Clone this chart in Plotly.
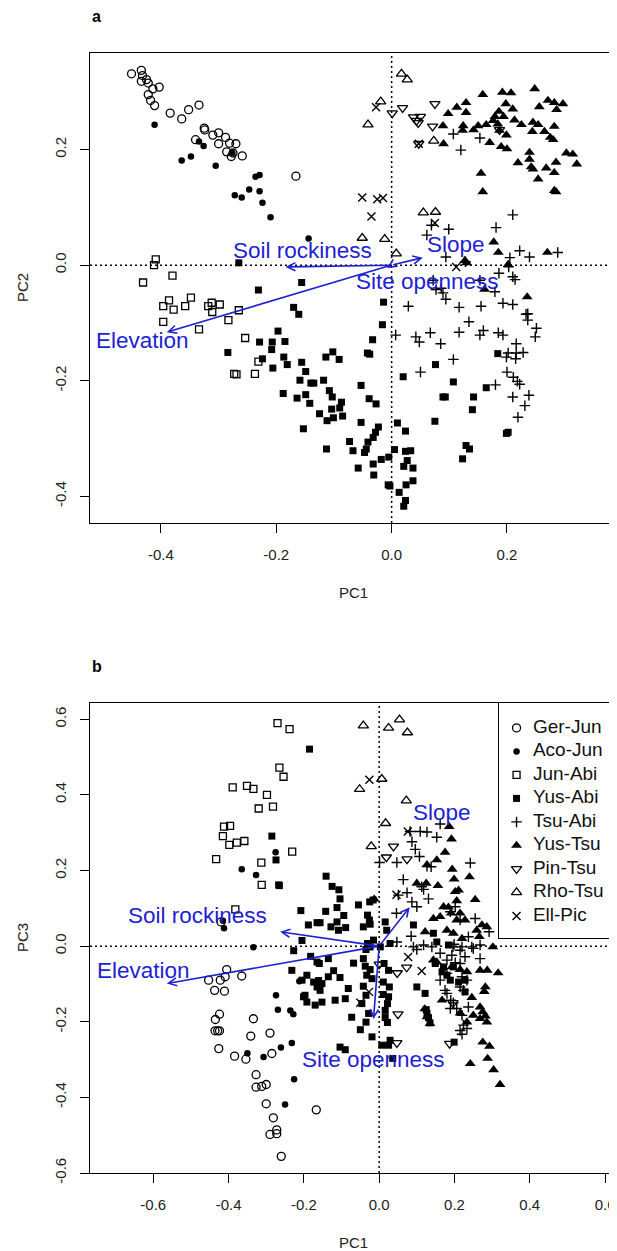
import plotly.graph_objects as go

# The page body has an 8px default margin: the figure is sized so that it
# fills the 617x1251 window exactly from that offset.
PAGE_W, PAGE_H, OFF = 617, 1251, 8
FW, FH = PAGE_W - OFF, PAGE_H - OFF
FONT = "Liberation Sans, Arial, Helvetica, sans-serif"
BLUE = "#1e1ed2"

# ---------------- data: panel a (PC1 vs PC2) ----------------
GER_JUN_A_PC1 = [-0.451,-0.434,-0.432,-0.425,-0.422,-0.434,-0.414,-0.403,-0.422,-0.418,-0.411,-0.384,-0.364,-0.352,-0.334,-0.325,-0.324,-0.340,-0.310,-0.300,-0.300,-0.288,-0.281,-0.270,-0.286,-0.278,-0.275,-0.259,-0.166]
GER_JUN_A_PC2 = [0.331,0.337,0.328,0.321,0.315,0.318,0.305,0.308,0.295,0.285,0.276,0.263,0.253,0.269,0.277,0.237,0.234,0.217,0.225,0.229,0.210,0.221,0.211,0.210,0.196,0.188,0.194,0.189,0.154]

ACO_JUN_A_PC1 = [-0.411,-0.364,-0.348,-0.334,-0.326,-0.305,-0.272,-0.260,-0.247,-0.236,-0.229,-0.229,-0.224,-0.210,-0.144,-0.276]
ACO_JUN_A_PC2 = [0.243,0.181,0.188,0.214,0.206,0.172,0.121,0.117,0.131,0.153,0.156,0.128,0.108,0.083,0.046,0.194]

JUN_ABI_A_PC1 = [-0.409,-0.412,-0.380,-0.431,-0.396,-0.386,-0.378,-0.358,-0.348,-0.334,-0.318,-0.312,-0.311,-0.298,-0.396,-0.265,-0.283,-0.254,-0.231,-0.237,-0.269,-0.273]
JUN_ABI_A_PC2 = [0.010,0.000,-0.018,-0.030,-0.071,-0.061,-0.077,-0.071,-0.056,-0.111,-0.071,-0.065,-0.081,-0.068,-0.098,-0.078,-0.095,-0.126,-0.167,-0.188,-0.189,-0.188]

YUS_ABI_A_PC1 = [-0.265,-0.156,-0.231,-0.170,-0.161,-0.197,-0.229,-0.207,-0.185,-0.208,
                 -0.284,-0.224,-0.187,-0.181,-0.206,-0.156,-0.114,-0.102,-0.091,-0.149,
                 -0.159,-0.140,-0.135,-0.118,-0.188,-0.164,-0.149,-0.142,-0.108,-0.103,
                 -0.087,-0.090,-0.125,-0.104,-0.112,-0.101,-0.085,-0.153,-0.053,-0.039,
                 -0.027,-0.053,-0.023,-0.014,-0.016,-0.033,-0.042,-0.038,-0.028,-0.032,
                 -0.041,-0.044,-0.073,-0.067,-0.113,-0.047,-0.032,-0.018,-0.005,-0.058,
                 -0.031,-0.006,-0.003,0.010,0.024,0.005,0.024,0.033,0.027,0.021,
                 0.037,0.025,0.037,0.013,0.024,0.021,0.076,0.020,0.107,0.089,
                 0.093,0.142,0.140,0.075,0.129,0.135,0.123,0.164,0.184,0.199,0.202]
YUS_ABI_A_PC2 = [0.004,-0.030,-0.043,-0.073,-0.085,-0.114,-0.133,-0.133,-0.132,-0.146,
                 -0.151,-0.162,-0.159,-0.172,-0.178,-0.168,-0.159,-0.150,-0.163,-0.184,
                 -0.199,-0.204,-0.204,-0.199,-0.222,-0.230,-0.224,-0.239,-0.217,-0.228,
                 -0.237,-0.247,-0.257,-0.249,-0.269,-0.264,-0.261,-0.283,-0.208,-0.231,
                 -0.240,-0.272,-0.280,-0.064,-0.103,-0.129,-0.152,-0.154,-0.289,-0.298,
                 -0.306,-0.318,-0.305,-0.321,-0.318,-0.324,-0.344,-0.336,-0.332,-0.351,
                 -0.363,-0.380,-0.382,-0.273,-0.287,-0.319,-0.322,-0.321,-0.338,-0.348,
                 -0.351,-0.380,-0.373,-0.393,-0.407,-0.417,-0.172,-0.193,-0.202,-0.228,
                 -0.228,-0.228,-0.250,-0.270,-0.312,-0.318,-0.335,-0.212,-0.153,-0.291,-0.289]

TSU_ABI_A_PC1 = [0.107,0.153,0.120,0.210,0.181,0.099,0.061,0.069,0.094,0.128,
                 0.205,0.222,0.239,0.288,0.203,0.186,0.210,0.214,0.179,0.153,
                 0.072,0.077,0.086,0.089,0.094,0.029,0.117,0.155,0.193,0.210,
                 0.233,0.236,0.251,0.249,0.134,0.117,0.067,0.042,0.048,0.085,
                 0.007,0.153,0.159,0.185,0.193,0.216,0.202,0.216,0.228,0.199,
                 0.215,0.107,0.050,0.200,0.211,0.218,0.222,0.180,0.210,0.238,
                 0.231,0.219,0.236]
TSU_ABI_A_PC2 = [0.227,0.220,0.199,0.087,0.065,0.062,0.052,0.069,0.014,0.006,
                 0.013,0.025,0.014,0.022,-0.003,-0.014,-0.020,-0.025,-0.046,-0.026,
                 -0.026,-0.042,-0.040,-0.048,-0.059,-0.071,-0.073,-0.071,-0.066,-0.068,
                 -0.085,-0.095,-0.109,-0.124,-0.098,-0.116,-0.117,-0.124,-0.133,-0.136,
                 -0.121,-0.121,-0.113,-0.117,-0.121,-0.136,-0.152,-0.152,-0.151,-0.159,
                 -0.162,-0.163,-0.185,-0.185,-0.194,-0.201,-0.206,-0.207,-0.228,-0.225,
                 -0.243,-0.263,-0.084]

YUS_TSU_A_PC1 = [0.158,0.192,0.207,0.248,0.271,0.282,0.297,0.256,0.286,0.129,
                 0.113,0.098,0.129,0.198,0.210,0.186,0.179,0.176,0.184,0.194,
                 0.164,0.150,0.142,0.089,0.124,0.123,0.187,0.199,0.213,0.225,
                 0.245,0.254,0.244,0.265,0.282,0.275,0.280,0.170,0.190,0.200,
                 0.090,0.239,0.239,0.219,0.242,0.245,0.268,0.282,0.285,0.303,
                 0.314,0.321,0.254,0.155,0.158,0.282,0.285,0.177,0.185,0.270,
                 0.202,0.127,0.130,0.161,0.235]
YUS_TSU_A_PC2 = [0.295,0.299,0.298,0.305,0.285,0.281,0.279,0.274,0.269,0.281,
                 0.273,0.262,0.264,0.279,0.270,0.266,0.257,0.250,0.244,0.257,
                 0.243,0.241,0.234,0.241,0.241,0.233,0.233,0.225,0.251,0.243,
                 0.247,0.243,0.231,0.231,0.240,0.221,0.217,0.212,0.205,0.201,
                 0.210,0.195,0.183,0.177,0.170,0.166,0.168,0.160,0.178,0.194,
                 0.192,0.175,0.149,0.159,0.127,0.129,0.127,0.040,0.022,0.022,
                 0.001,0.008,0.004,-0.042,-0.055]

PIN_TSU_A_PC1 = [0.001,0.019,0.038,0.043,0.050,0.046,0.075,0.071,0.047,0.187]
PIN_TSU_A_PC2 = [0.263,0.272,0.256,0.250,0.257,0.246,0.279,0.240,0.210,0.234]

RHO_TSU_A_PC1 = [0.017,0.027,-0.019,-0.041,0.073,0.055,0.076,-0.051,-0.012,0.008]
RHO_TSU_A_PC2 = [0.331,0.321,0.283,0.243,0.215,0.091,0.092,0.047,0.045,0.020]

ELL_PIC_A_PC1 = [-0.027,0.047,-0.051,-0.025,-0.015,-0.035,0.075,0.112]
ELL_PIC_A_PC2 = [0.273,0.210,0.117,0.114,0.116,0.084,0.073,-0.003]

# ---------------- data: panel b (PC1 vs PC3) ----------------
GER_JUN_B_PC1 = [-0.453,-0.422,-0.405,-0.409,-0.365,-0.437,-0.411,-0.424,-0.435,-0.436,
                 -0.429,-0.424,-0.426,-0.334,-0.341,-0.290,-0.384,-0.354,-0.285,-0.327,
                 -0.327,-0.312,-0.300,-0.300,-0.281,-0.272,-0.290,-0.272,-0.260,-0.167,-0.420]
GER_JUN_B_PC3 = [-0.090,-0.090,-0.062,-0.081,-0.079,-0.117,-0.119,-0.180,-0.194,-0.224,
                 -0.224,-0.224,-0.271,-0.192,-0.238,-0.230,-0.291,-0.299,-0.284,-0.340,
                 -0.373,-0.371,-0.366,-0.417,-0.454,-0.486,-0.498,-0.496,-0.556,-0.433,0.064]

ACO_JUN_B_PC1 = [-0.365,-0.327,-0.275,-0.415,-0.412,-0.334,-0.274,-0.269,-0.236,-0.228,-0.212,-0.232,-0.261,-0.350,-0.307,-0.226,-0.250]
ACO_JUN_B_PC3 = [0.203,0.188,0.248,0.067,0.047,-0.003,-0.130,-0.168,-0.170,-0.180,-0.093,-0.256,-0.268,-0.283,-0.293,-0.352,-0.419]

JUN_ABI_B_PC1 = [-0.270,-0.238,-0.265,-0.254,-0.389,-0.351,-0.334,-0.298,-0.282,-0.320,-0.412,-0.396,-0.415,-0.398,-0.378,-0.358,-0.433,-0.313,-0.231,-0.312,-0.382]
JUN_ABI_B_PC3 = [0.590,0.574,0.472,0.448,0.420,0.424,0.416,0.400,0.369,0.364,0.316,0.318,0.291,0.268,0.274,0.278,0.230,0.221,0.250,0.162,0.097]

YUS_ABI_B_PC1 = [-0.185,-0.285,-0.274,-0.265,-0.208,-0.188,-0.165,-0.141,-0.125,-0.107,
                 -0.104,-0.112,-0.142,-0.094,-0.055,-0.025,-0.016,-0.089,-0.112,-0.108,
                 -0.128,-0.157,-0.042,-0.024,-0.031,-0.026,0.016,0.020,0.091,0.144,
                 0.153,0.184,
                 -0.205,-0.227,-0.182,-0.165,-0.135,-0.232,-0.192,-0.161,-0.205,-0.201,
                 -0.170,-0.152,-0.157,-0.159,-0.121,-0.135,-0.104,-0.068,-0.042,-0.031,
                 -0.024,-0.035,-0.015,-0.037,-0.024,-0.033,-0.019,-0.042,-0.035,-0.046,
                 -0.073,-0.028,-0.090,-0.082,-0.117,-0.152,-0.197,-0.192,-0.174,-0.165,
                 0.013,0.025,0.011,0.027,0.011,0.025,0.022,0.016,0.016,0.022,
                 -0.035,-0.019,-0.050,0.007,0.025,0.029,-0.104,-0.090,0.036,0.029,
                 0.003,
                 0.122,0.125,0.127,0.131,0.135,0.100,0.171,0.197,0.189,0.211,
                 0.228,0.228,0.167,0.180,0.149,0.199,-0.267]
YUS_ABI_B_PC3 = [0.521,0.291,0.228,0.160,0.094,0.056,0.062,0.185,0.158,0.149,
                 0.125,0.102,0.092,0.081,0.109,0.117,0.122,0.049,0.064,0.042,
                 0.051,0.062,0.051,0.058,0.082,0.069,0.064,0.042,0.056,0.034,
                 0.011,0.003,
                 0.015,-0.012,-0.027,-0.042,-0.033,-0.064,-0.077,-0.091,-0.090,-0.134,
                 -0.156,-0.099,-0.117,-0.046,-0.065,-0.081,-0.083,-0.045,-0.033,0.007,
                 -0.002,-0.009,0.016,-0.053,-0.062,-0.077,-0.086,-0.106,-0.130,-0.152,
                 -0.188,-0.178,-0.139,-0.112,-0.143,-0.148,-0.130,-0.148,-0.095,-0.108,
                 -0.046,-0.064,-0.095,-0.108,-0.128,-0.134,-0.152,-0.170,-0.189,-0.202,
                 -0.201,-0.240,-0.221,-0.262,-0.262,-0.249,-0.267,-0.274,-0.297,0.007,
                 -0.002,
                 -0.125,-0.168,-0.178,-0.189,-0.203,-0.108,-0.055,-0.055,-0.090,-0.095,
                 -0.090,-0.121,-0.068,-0.077,-0.046,-0.254,0.162]

TSU_ABI_B_PC1 = [0.082,0.109,0.127,0.153,0.162,0.087,0.096,0.107,0.047,0.001,
                 0.127,0.138,0.242,0.064,0.113,0.118,0.074,0.051,0.087,0.131,
                 0.100,0.046,0.085,0.047,0.091,0.118,0.140,0.100,0.196,0.162,
                 0.193,0.220,0.246,0.268,0.292,0.255,0.189,0.202,0.215,0.237,
                 0.180,0.202,0.215,0.228,0.180,0.162,0.180,0.215,0.268,0.190,
                 0.197,0.189,0.199,0.215,0.250,0.175,0.220,0.233,0.224,0.206,
                 0.220,0.224,0.233,0.215,0.220,0.237]
TSU_ABI_B_PC3 = [0.303,0.303,0.302,0.288,0.323,0.276,0.256,0.237,0.221,0.221,
                 0.211,0.210,0.220,0.176,0.157,0.150,0.141,0.135,0.117,0.125,
                 0.104,0.087,0.026,0.011,-0.002,0.003,-0.002,-0.009,-0.002,-0.019,
                 -0.024,-0.002,-0.002,0.003,0.038,0.073,0.091,0.104,0.069,0.025,
                 -0.037,-0.044,-0.046,-0.028,-0.072,-0.090,-0.125,-0.108,-0.033,-0.143,
                 -0.150,-0.165,0.005,-0.011,-0.006,-0.117,-0.081,-0.090,-0.117,-0.165,
                 -0.183,-0.209,-0.218,-0.223,-0.233,-0.161]

YUS_TSU_B_PC1 = [0.186,0.192,0.175,0.153,0.127,0.194,0.199,0.240,0.125,0.100,
                 0.156,0.202,0.211,0.206,0.255,-0.013,0.171,0.184,0.191,0.215,
                 0.206,0.228,0.144,0.162,0.273,0.286,0.259,0.266,0.302,0.180,
                 0.197,0.220,0.122,0.144,0.193,0.215,0.233,0.268,0.287,0.316,
                 0.282,0.279,0.246,0.268,0.167,0.121,0.127,0.135,0.250,0.268,
                 0.286,0.215,0.233,0.275,0.282,0.275,0.293,0.242,0.288,0.304,
                 0.321,0.153]
YUS_TSU_B_PC3 = [0.316,0.283,0.248,0.228,0.215,0.203,0.177,0.183,0.166,0.166,
                 0.160,0.144,0.148,0.120,0.123,0.124,0.104,0.103,0.087,0.087,
                 0.069,0.069,0.073,0.078,0.056,0.051,0.042,0.025,-0.002,0.042,
                 0.034,0.020,0.038,-0.037,-0.055,-0.062,-0.068,-0.064,-0.064,-0.071,
                 -0.108,-0.120,-0.136,-0.161,-0.143,-0.166,-0.187,-0.205,-0.183,-0.192,
                 -0.201,-0.177,-0.201,-0.174,-0.185,-0.254,-0.265,-0.311,-0.297,-0.327,
                 -0.366,-0.042]

PIN_TSU_B_PC1 = [0.038,0.019,0.074,0.000,0.048,0.073,0.050,0.047,0.187,0.196]
PIN_TSU_B_PC3 = [0.264,0.235,0.230,-0.048,-0.071,-0.056,-0.180,-0.256,-0.258,-0.150]

RHO_TSU_B_PC1 = [-0.042,0.025,0.054,0.075,-0.052,0.007,0.072,0.017,-0.021]
RHO_TSU_B_PC3 = [0.583,0.577,0.599,0.565,0.415,0.442,0.385,0.325,0.264]

ELL_PIC_B_PC1 = [-0.026,0.076,0.046,0.077,0.113,-0.027,-0.050]
ELL_PIC_B_PC3 = [0.440,0.303,0.136,-0.029,-0.066,-0.121,-0.150]

# ---------------- environmental vectors ----------------
VARS = ["Elevation", "Soil rockiness", "Slope", "Site openness"]
VEC_A_PC1 = [-0.390, -0.184, 0.054, -0.008]
VEC_A_PC2 = [-0.116, -0.003, 0.013, -0.005]
LAB_A_PC1 = [-0.432, -0.155, 0.111, 0.063]
LAB_A_PC2 = [-0.130, 0.025, 0.035, -0.029]
VEC_B_PC1 = [-0.564, -0.263, 0.081, -0.015]
VEC_B_PC3 = [-0.099, 0.038, 0.103, -0.193]
LAB_B_PC1 = [-0.626, -0.483, 0.166, -0.015]
LAB_B_PC3 = [-0.064, 0.082, 0.353, -0.300]

# ---------------- ticks ----------------
TICKS_A = [-0.4, -0.2, 0.0, 0.2]
TICKTEXT_A = ["-0.4", "-0.2", "0.0", "0.2"]
TICKS_B = [-0.6, -0.4, -0.2, 0.0, 0.2, 0.4, 0.6]
TICKTEXT_B = ["-0.6", "-0.4", "-0.2", "0.0", "0.2", "0.4", "0.6"]

GROUPS = ["Ger-Jun", "Aco-Jun", "Jun-Abi", "Yus-Abi", "Tsu-Abi", "Yus-Tsu", "Pin-Tsu", "Rho-Tsu", "Ell-Pic"]
PANEL_A = [(GER_JUN_A_PC1, GER_JUN_A_PC2), (ACO_JUN_A_PC1, ACO_JUN_A_PC2), (JUN_ABI_A_PC1, JUN_ABI_A_PC2),
           (YUS_ABI_A_PC1, YUS_ABI_A_PC2), (TSU_ABI_A_PC1, TSU_ABI_A_PC2), (YUS_TSU_A_PC1, YUS_TSU_A_PC2),
           (PIN_TSU_A_PC1, PIN_TSU_A_PC2), (RHO_TSU_A_PC1, RHO_TSU_A_PC2), (ELL_PIC_A_PC1, ELL_PIC_A_PC2)]
PANEL_B = [(GER_JUN_B_PC1, GER_JUN_B_PC3), (ACO_JUN_B_PC1, ACO_JUN_B_PC3), (JUN_ABI_B_PC1, JUN_ABI_B_PC3),
           (YUS_ABI_B_PC1, YUS_ABI_B_PC3), (TSU_ABI_B_PC1, TSU_ABI_B_PC3), (YUS_TSU_B_PC1, YUS_TSU_B_PC3),
           (PIN_TSU_B_PC1, PIN_TSU_B_PC3), (RHO_TSU_B_PC1, RHO_TSU_B_PC3), (ELL_PIC_B_PC1, ELL_PIC_B_PC3)]

# marker styles (R pch 1,16,0,15,3,17,6,2,4)
STYLES = [
    dict(symbol="circle-open", size=8, color="black", line=dict(width=1.3, color="black")),
    dict(symbol="circle", size=6.5, color="black", line=dict(width=0)),
    dict(symbol="square-open", size=7, color="black", line=dict(width=1.3, color="black")),
    dict(symbol="square", size=7, color="black", line=dict(width=0)),
    dict(symbol="cross-thin-open", size=7.5, color="black", line=dict(width=1.4, color="black")),
    dict(symbol="triangle-up", size=9.5, color="black", line=dict(width=0)),
    dict(symbol="triangle-down-open", size=9, color="black", line=dict(width=1.3, color="black")),
    dict(symbol="triangle-up-open", size=9, color="black", line=dict(width=1.3, color="black")),
    dict(symbol="x-thin-open", size=8, color="black", line=dict(width=1.4, color="black")),
]

fig = go.Figure()
for name, (xs, ys), st in zip(GROUPS, PANEL_A, STYLES):
    fig.add_trace(go.Scatter(x=xs, y=ys, mode="markers", name=name, marker=st,
                             showlegend=False, xaxis="x", yaxis="y", hoverinfo="skip"))
for name, (xs, ys), st in zip(GROUPS, PANEL_B, STYLES):
    fig.add_trace(go.Scatter(x=xs, y=ys, mode="markers", name=name, marker=st,
                             showlegend=False, xaxis="x2", yaxis="y2", hoverinfo="skip"))

# legend for panel b, drawn on its own small category axis (one row per group)
LEG_SYM_X = 0.15
LEG_TXT_X = 0.29
for name, st in zip(GROUPS, STYLES):
    fig.add_trace(go.Scatter(x=[LEG_SYM_X], y=[name], mode="markers", marker=st,
                             showlegend=False, xaxis="x3", yaxis="y3", hoverinfo="skip"))
fig.add_trace(go.Scatter(x=[LEG_TXT_X] * len(GROUPS), y=GROUPS, text=GROUPS, mode="text",
                         textposition="middle right",
                         textfont=dict(family=FONT, size=19, color="#111"),
                         showlegend=False, xaxis="x3", yaxis="y3", hoverinfo="skip"))

# layout geometry, in window pixels
PX_L, PX_R = 90, 616
A_TOP, A_BOT = 53, 523
B_TOP, B_BOT = 703, 1173
LEG_L, LEG_R, LEG_T, LEG_B = 499, 616, 703, 938

def fx(p):
    return (p - OFF) / FW

def fy(p):
    return 1 - (p - OFF) / FH

axis_common = dict(showline=True, mirror=True, linecolor="black", linewidth=1.4,
                   ticks="outside", ticklen=9, tickwidth=1.4, tickcolor="black",
                   showgrid=False, zeroline=False,
                   tickfont=dict(family=FONT, size=15, color="#222"))
leg_axis = dict(showline=True, mirror=True, linecolor="black", linewidth=1.3,
                ticks="", showticklabels=False, showgrid=False, zeroline=False, fixedrange=True)

fig.update_layout(
    width=FW, height=FH, autosize=False,
    margin=dict(l=0, r=0, t=0, b=0, pad=0, autoexpand=False),
    paper_bgcolor="white", plot_bgcolor="white",
    font=dict(family=FONT, color="black"),
    showlegend=False,
    xaxis=dict(domain=[fx(PX_L), fx(PX_R)], range=[-0.523, 0.389], anchor="y",
               tickvals=TICKS_A, ticktext=TICKTEXT_A, ticklabelstandoff=9, **axis_common),
    yaxis=dict(domain=[fy(A_BOT), fy(A_TOP)], range=[-0.446, 0.367], anchor="x",
               tickvals=TICKS_A, ticktext=TICKTEXT_A, tickangle=-90, ticklabelstandoff=8, **axis_common),
    xaxis2=dict(domain=[fx(PX_L), fx(PX_R)], range=[-0.768, 0.629], anchor="y2",
                tickvals=TICKS_B, ticktext=TICKTEXT_B, ticklabelstandoff=9, **axis_common),
    yaxis2=dict(domain=[fy(B_BOT), fy(B_TOP)], range=[-0.600, 0.643], anchor="x2",
                tickvals=TICKS_B, ticktext=TICKTEXT_B, tickangle=-90, ticklabelstandoff=8, **axis_common),
    xaxis3=dict(domain=[fx(LEG_L), fx(LEG_R)], range=[0, 1], anchor="y3", **leg_axis),
    yaxis3=dict(domain=[fy(LEG_B), fy(LEG_T)], type="category", categoryorder="array",
                categoryarray=GROUPS, range=[8.94, -1.06], anchor="x3", **leg_axis),
)

dot = dict(color="black", width=1.5, dash="2px,3px")
shapes = []
for xa, ya in (("x", "y"), ("x2", "y2")):
    shapes.append(dict(type="line", xref=xa, yref=ya + " domain", x0=0, x1=0, y0=0, y1=1, line=dot, layer="below"))
    shapes.append(dict(type="line", xref=xa + " domain", yref=ya, x0=0, x1=1, y0=0, y1=0, line=dot, layer="below"))
fig.update_layout(shapes=shapes)

ann = []
for xa, ya, vx, vy, lx, ly in (("x", "y", VEC_A_PC1, VEC_A_PC2, LAB_A_PC1, LAB_A_PC2),
                               ("x2", "y2", VEC_B_PC1, VEC_B_PC3, LAB_B_PC1, LAB_B_PC3)):
    for i, v in enumerate(VARS):
        ann.append(dict(x=vx[i], y=vy[i], ax=0, ay=0, xref=xa, yref=ya, axref=xa, ayref=ya,
                        text="", showarrow=True, arrowhead=5, arrowsize=1, arrowwidth=1.6,
                        arrowcolor=BLUE, standoff=0, startstandoff=0))
        ann.append(dict(x=lx[i], y=ly[i], xref=xa, yref=ya, text=v, showarrow=False,
                        xanchor="center", yanchor="middle",
                        font=dict(family=FONT, size=22.5, color=BLUE)))

# axis titles and panel letters (explicit anchors: "auto" would snap them to top/bottom)
def paper_text(px, pyy, text, size, angle=0, xanchor="center", color="#222"):
    return dict(x=fx(px), y=fy(pyy), xref="paper", yref="paper", text=text, showarrow=False,
                xanchor=xanchor, yanchor="middle", textangle=angle,
                font=dict(family=FONT, size=size, color=color))

ann.append(paper_text(353, 592, "PC1", 15))
ann.append(paper_text(353, 1242, "PC1", 15))
ann.append(paper_text(22, (A_TOP + A_BOT) / 2, "PC2", 15, angle=-90))
ann.append(paper_text(22, (B_TOP + B_BOT) / 2, "PC3", 15, angle=-90))
ann.append(paper_text(90, 16, "<b>a</b>", 16, xanchor="left", color="black"))
ann.append(paper_text(90, 666, "<b>b</b>", 16, xanchor="left", color="black"))
fig.update_layout(annotations=ann)

fig.write_html("out.html")
